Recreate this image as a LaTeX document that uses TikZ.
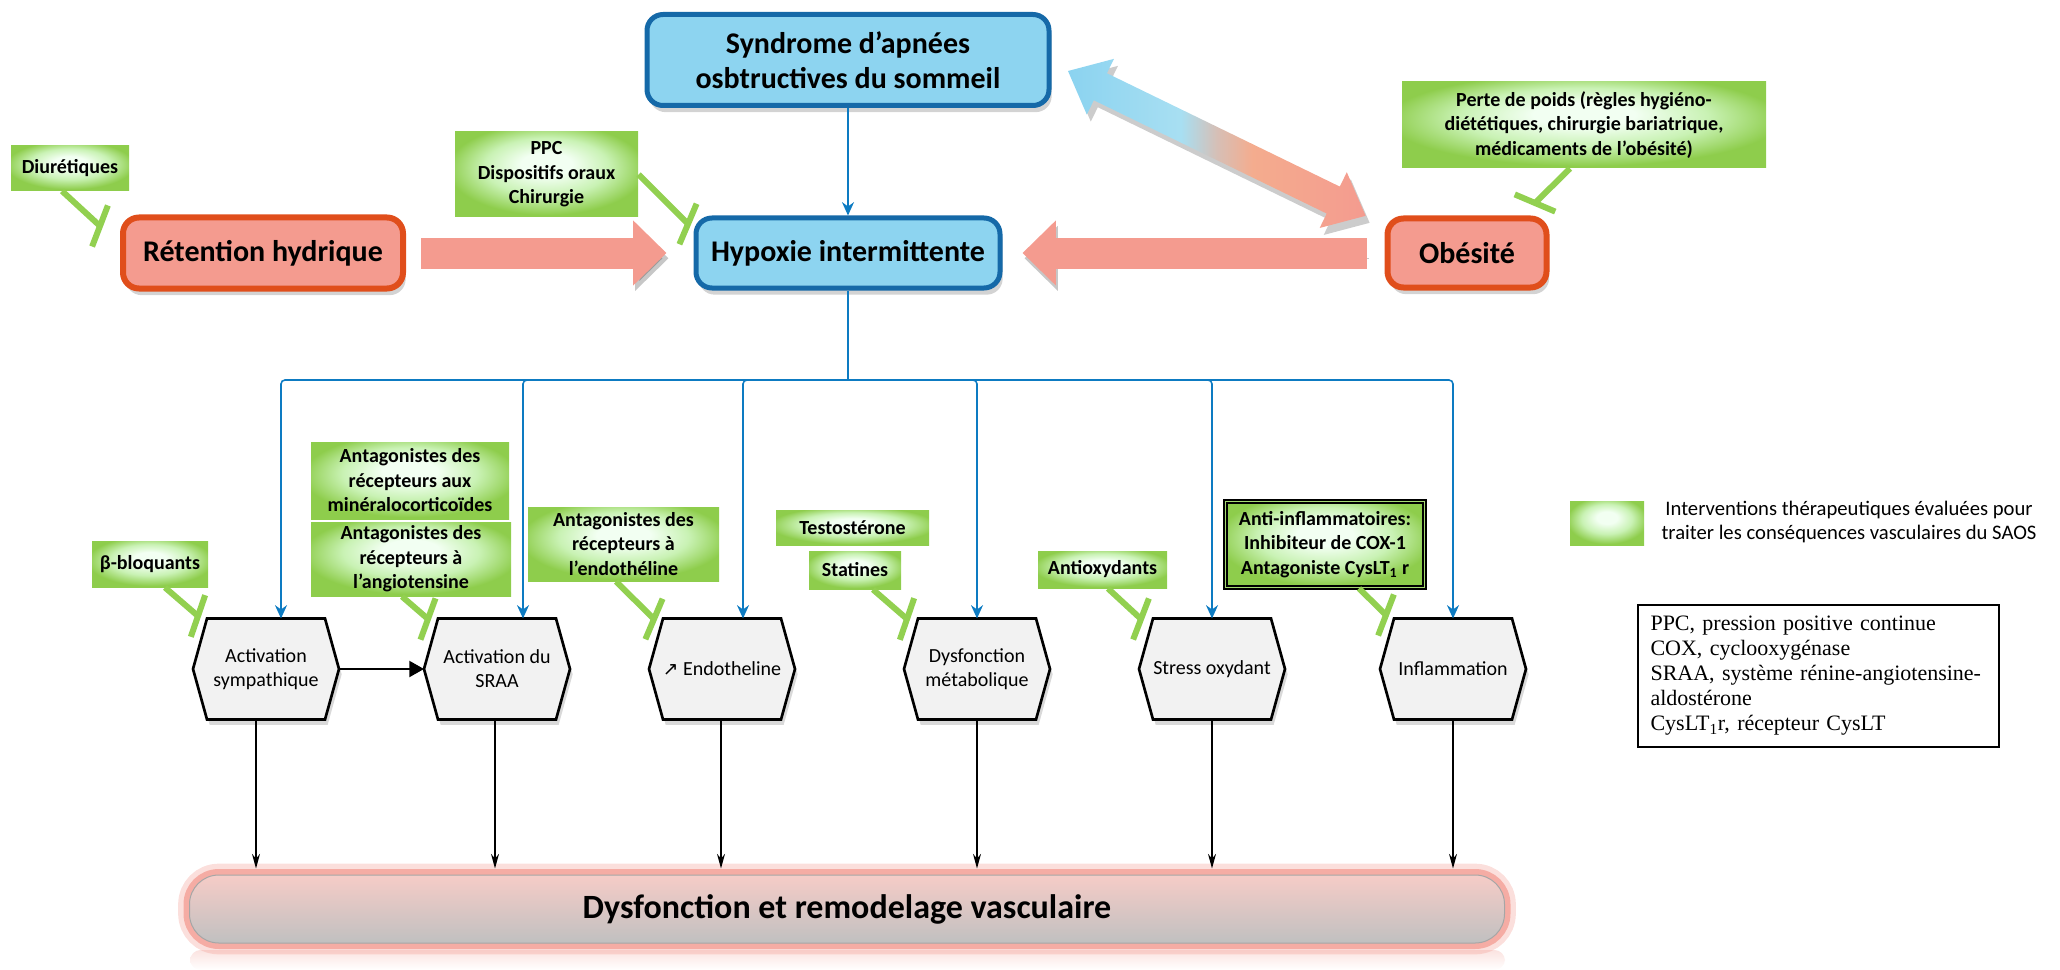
\documentclass[tikz,border=0pt]{standalone}
\usepackage{fontspec}
\setmainfont{Carlito}
\newfontfamily\abbrfont{Liberation Serif}
\newfontfamily\arrowfont{DejaVu Sans}
\usetikzlibrary{arrows.meta,shadows,calc,backgrounds}

\definecolor{boxblue}{HTML}{8DD4F0}
\definecolor{boxblueline}{HTML}{1569A8}
\definecolor{salmon}{HTML}{F49B8F}
\definecolor{salmonline}{HTML}{E04E1B}
\definecolor{linkblue}{HTML}{0D7BC2}
\definecolor{inhgreen}{HTML}{92D050}
\definecolor{greenedge}{HTML}{8ECD4C}
\definecolor{greenlight}{HTML}{C9F2B4}
\definecolor{greencore}{HTML}{F2FFF2}
\definecolor{hexgray}{HTML}{F2F2F2}
\definecolor{arrowblue}{HTML}{8BD3F0}
\definecolor{arrowpale}{HTML}{A8DFF2}
\definecolor{grayrose}{HTML}{D6BFB6}
\definecolor{peach}{HTML}{F4AC8E}
\definecolor{barpink}{HTML}{F6CCC7}
\definecolor{bargray}{HTML}{C0C0C0}
\definecolor{barglow}{HTML}{F4A39A}
\definecolor{barmirror}{HTML}{FBE3E0}
\definecolor{framegreen}{HTML}{A6DA72}

\pgfdeclarehorizontalshading{diagshade}{100bp}{color(0bp)=(arrowblue); color(25bp)=(arrowblue); color(44bp)=(arrowpale); color(50bp)=(grayrose); color(56bp)=(peach); color(75bp)=(salmon); color(100bp)=(salmon)}
\pgfdeclareradialshading{greenglow}{\pgfpoint{0bp}{7bp}}{color(0bp)=(greencore); color(7bp)=(greencore); color(17bp)=(greenlight); color(27bp)=(greenedge); color(50bp)=(greenedge)}

\tikzset{every picture/.style={line width=0.75pt}}
\tikzset{
  mainblue/.style={rectangle, rounded corners=12pt, draw=boxblueline, line width=3.75pt, fill=boxblue, align=center,
    font=\bfseries\fontsize{22.5}{26}\selectfont, drop shadow={opacity=0.35, shadow xshift=2pt, shadow yshift=-5pt}},
  mainsalmon/.style={mainblue, draw=salmonline, line width=4.5pt, fill=salmon},
  treat/.style={rectangle, inner sep=0pt, shade, shading=greenglow, align=center,
    font=\bfseries\fontsize{15}{18.4}\selectfont},
  hexnode/.style={rectangle, inner sep=0pt, minimum width=108.75pt, minimum height=75pt, align=center,
    font=\fontsize{15}{18}\selectfont},
  hexline/.style={draw=black, line width=2pt, fill=hexgray, line join=miter, drop shadow={opacity=0.3, shadow xshift=2pt, shadow yshift=-4pt}},
  inhline/.style={draw=inhgreen, line width=4.5pt},
  fatarrow/.style={draw=salmon, line width=23.25pt, -{Triangle[length=25pt, width=47.25pt]},
    preaction={draw=black, opacity=0.22, transform canvas={shift={(1.5pt,-4pt)}}}},
  bus/.style={draw=linkblue, line width=1.2pt, rounded corners=3pt},
  busarrow/.style={bus, -{Stealth[length=10pt, width=9pt]}},
  downarrow/.style={draw=black, line width=0.9pt, -{Stealth[length=11pt, width=6pt]}},
  sidearrow/.style={draw=black, line width=1.5pt, -{Triangle[length=11pt, width=12pt]}},
}

\begin{document}
\begin{tikzpicture}[x=0.75pt,y=0.75pt,yscale=-1,xscale=1]
\useasboundingbox (0,0) rectangle (2060,970);

%Shape: Rounded Rect [id:saos]
\node[mainblue, minimum width=301.5pt, minimum height=68.25pt] (saos) at (848,60) {Syndrome d’apnées\\osbtructives du sommeil};
%Shape: Rounded Rect [id:hypox]
\node[mainblue, minimum width=228pt, minimum height=52.5pt] (hypox) at (848,253) {Hypoxie intermittente};
%Shape: Rounded Rect [id:reten]
\node[mainsalmon, minimum width=210pt, minimum height=53.25pt] (reten) at (263,253) {Rétention hydrique};
%Shape: Rounded Rect [id:obes]
\node[mainsalmon, minimum width=119.25pt, minimum height=51.75pt] (obes) at (1467,253) {Obésité};

%Shape: Right Arrow [id:fat1]
\draw[fatarrow] ([xshift=11.25pt]reten.east) -- ([xshift=-20.25pt]hypox.west);
%Shape: Left Arrow [id:fat2]
\draw[fatarrow] ([xshift=-13.5pt]obes.west) -- ([xshift=15pt]hypox.east);

%Shape: Left-Right Arrow [id:diag]
\begin{scope}[shift={(1072,78)}, rotate=25.95]
\fill[black, opacity=0.2] (0,0) -- (36,-31) -- (36,-15) -- (295,-15) -- (295,-31) -- (331,0) -- (295,31) -- (295,15) -- (36,15) -- (36,31) -- cycle;
\end{scope}
\begin{scope}[shift={(1068,71)}, rotate=25.95]
\shade[shading=diagshade] (0,0) -- (36,-31) -- (36,-15) -- (295,-15) -- (295,-31) -- (331,0) -- (295,31) -- (295,15) -- (36,15) -- (36,31) -- cycle;
\end{scope}

%Straight Lines [id:saos-hypox]
\draw[busarrow] (saos.south) -- (hypox.north);

% Text Node
\node[treat, minimum width=88.5pt, minimum height=33.75pt] (diur) at (70,168) {Diurétiques};
% Text Node
\node[treat, minimum width=137.25pt, minimum height=63.75pt] (ppc) at (546.5,174.5) {PPC\\Dispositifs oraux\\Chirurgie};
% Text Node
\node[treat, minimum width=273pt, minimum height=64.5pt] (perte) at (1584,125) {Perte de poids (règles hygiéno-\\diététiques, chirurgie bariatrique,\\médicaments de l’obésité)};
% Text Node
\node[treat, minimum width=87pt, minimum height=34.5pt] (beta) at (150,564) {β-bloquants};
% Text Node
\node[treat, minimum width=148.5pt, minimum height=57.75pt] (mineral) at (410,480.5) {Antagonistes des\\récepteurs aux\\minéralocorticoïdes};
% Text Node
\node[treat, minimum width=150pt, minimum height=55.5pt] (angio) at (411,559) {Antagonistes des\\récepteurs à\\l’angiotensine};
% Text Node
\node[treat, minimum width=143.25pt, minimum height=55.5pt] (endoant) at (623.5,544) {Antagonistes des\\récepteurs à\\l’endothéline};
% Text Node
\node[treat, minimum width=114.75pt, minimum height=26.25pt] (testo) at (852.5,527.5) {Testostérone};
% Text Node
\node[treat, minimum width=69pt, minimum height=28.5pt] (stat) at (855,570) {Statines};
% Text Node
\node[treat, minimum width=96.75pt, minimum height=27.75pt] (antiox) at (1102.5,569.5) {Antioxydants};
% Text Node
\node[treat, minimum width=149.25pt, minimum height=64.5pt, draw=black, line width=1.4pt, double=framegreen, double distance=1.4pt] (antiinfl) at (1325,544.5) {Anti-inflammatoires:\\Inhibiteur de COX-1\\Antagoniste CysLT\textsubscript{1} r};

% Hexagon Nodes
\node[hexnode] (sym) at (266,669) {Activation\\sympathique};
\node[hexnode] (sraa) at (497,669) {Activation du\\SRAA};
\node[hexnode] (endo) at (722,669) {{\arrowfont\fontsize{14}{14}\selectfont ↗} Endotheline};
\node[hexnode] (meta) at (977,669) {Dysfonction\\métabolique};
\node[hexnode] (stress) at (1212,669) {Stress oxydant};
\node[hexnode] (infl) at (1453,669) {Inflammation};

\begin{scope}[on background layer]
\foreach \n in {sym,sraa,endo,meta,stress,infl}
  \draw[hexline] (\n.west) -- ([xshift=10.5pt]\n.north west) -- ([xshift=-10.5pt]\n.north east) -- (\n.east) -- ([xshift=-10.5pt]\n.south east) -- ([xshift=10.5pt]\n.south west) -- cycle;
%Shape: Bar reflection
\shade[top color=barmirror, bottom color=white, rounded corners=8pt] (190,950) rectangle (1505,970);
\end{scope}

%Straight Lines [id:bus]
\coordinate (hub) at (848,380);
\draw[bus] (hypox.south) -- (hub);
\foreach \n/\dx in {sym/11.25pt, sraa/19.5pt, endo/15.75pt, meta/0pt, stress/0pt, infl/0pt}
  \draw[busarrow] (hub) -| ([xshift=\dx]\n.north);

%Straight Lines [id:side]
\draw[sidearrow] (sym.east) -- (sraa.west);

%Shape: Rounded Rect [id:bar]
\node[rectangle, rounded corners=22pt, minimum width=986.25pt, minimum height=51pt, draw=black!35, line width=0.75pt,
  top color=barpink, bottom color=bargray, font=\bfseries\fontsize{25.5}{30}\selectfont,
  preaction={draw=barglow, line width=17pt, opacity=0.35}, preaction={draw=barglow, line width=9pt, opacity=0.85}] (bar) at (847,909) {Dysfonction et remodelage vasculaire};

%Straight Lines [id:down]
\foreach \n/\dx in {sym/-7.5pt, sraa/-1.5pt, endo/-0.75pt, meta/0pt, stress/0pt, infl/0pt}
  \draw[downarrow] ([xshift=\dx]\n.south) -- ++(0,149);

%Shape: Inhibition connectors
\coordinate (sDiur) at ($(diur.south)+(-8,0)$);
\coordinate (sPpc) at (ppc.east);
\coordinate (sPerte) at ($(perte.south)+(-14,0)$);
\coordinate (sBeta) at ($(beta.south)+(15,0)$);
\coordinate (sAngio) at ($(angio.south)+(-9,0)$);
\coordinate (sEndo) at ($(endoant.south)+(-7.5,0)$);
\coordinate (sStat) at ($(stat.south)+(18,0)$);
\coordinate (sAntiox) at ($(antiox.south)+(5.5,0)$);
\coordinate (sInfl) at ($(antiinfl.south)+(34,0)$);
\coordinate (tDiur) at (100,226);
\coordinate (tPpc) at (688,224);
\coordinate (tPerte) at (1535,203);
\coordinate (tBeta) at (198,616);
\coordinate (tAngio) at (428,619);
\coordinate (tEndo) at (654,619);
\coordinate (tStat) at (907,619);
\coordinate (tAntiox) at (1141,619);
\coordinate (tInfl) at (1386,615);
\foreach \s/\t/\a in {sDiur/tDiur/111, sPpc/tPpc/113, sPerte/tPerte/23, sBeta/tBeta/109, sAngio/tAngio/110,
    sEndo/tEndo/113, sStat/tStat/109, sAntiox/tAntiox/111, sInfl/tInfl/111}{
  \draw[inhline] (\s) -- (\t);
  \draw[inhline] ($(\t)+(\a:22)$) -- ($(\t)+(\a:-22)$);
}

% Legend
\node[treat, minimum width=55.5pt, minimum height=33pt] (legsq) at (1607,523) {};
\node[align=center, font=\fontsize{15.5}{18}\selectfont, inner sep=0pt] (legtxt) at (1849,522) {Interventions thérapeutiques évaluées pour\\traiter les conséquences vasculaires du SAOS};
\node[draw=black, line width=1.2pt, minimum width=270.75pt, minimum height=106.5pt, text width=252pt, align=left,
  font=\abbrfont\fontsize{16.5}{18.75}\selectfont] (abbr) at (1818.5,676) {PPC, pression positive continue\\COX, cyclooxygénase\\SRAA, système rénine-angiotensine-\\aldostérone\\CysLT\textsubscript{1}r, récepteur CysLT};

\end{tikzpicture}
\end{document}
